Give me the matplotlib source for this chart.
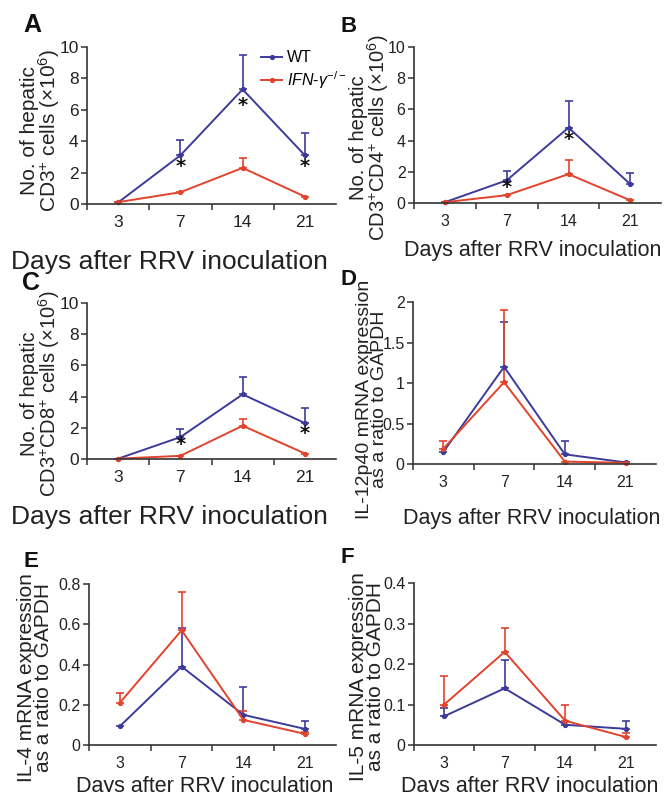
import numpy as np
import matplotlib
matplotlib.use("Agg")
import matplotlib.pyplot as plt
from matplotlib.lines import Line2D

plt.rcParams['font.family'] = ['Liberation Sans', 'DejaVu Sans']
plt.rcParams['mathtext.fontset'] = 'custom'
plt.rcParams['mathtext.rm'] = 'Liberation Sans'
plt.rcParams['mathtext.it'] = 'Liberation Sans:italic'

days = ["3", "7", "14", "21"]

# A: CD3+
a_wt = [0.1, 3.1, 7.3, 3.1]
a_wt_err = [0, 1.0, 2.2, 1.45]
a_ko = [0.12, 0.75, 2.3, 0.47]
a_ko_err = [0, 0, 0.6, 0]
a_stars = [(1, 2.4), (2, 6.25), (3, 2.4)]

# B: CD3+CD4+
b_wt = [0.05, 1.45, 4.83, 1.2]
b_wt_err = [0, 0.6, 1.7, 0.75]
b_ko = [0.05, 0.5, 1.85, 0.17]
b_ko_err = [0, 0, 0.9, 0]
b_stars = [(1, 1.0), (2, 4.05)]

# C: CD3+CD8+
c_wt = [0.02, 1.4, 4.14, 2.3]
c_wt_err = [0, 0.5, 1.1, 0.95]
c_ko = [0.02, 0.2, 2.13, 0.35]
c_ko_err = [0, 0, 0.42, 0]
c_stars = [(1, 0.9), (3, 1.65)]

# D: IL-12p40
d_wt = [0.15, 1.2, 0.12, 0.02]
d_wt_err = [0, 0.55, 0.17, 0]
d_ko = [0.19, 1.01, 0.03, 0.015]
d_ko_err = [0.09, 0.89, 0, 0]

# E: IL-4
e_wt = [0.093, 0.39, 0.15, 0.08]
e_wt_err = [0, 0.19, 0.14, 0.04]
e_ko = [0.21, 0.57, 0.125, 0.055]
e_ko_err = [0.05, 0.19, 0.045, 0.01]

# F: IL-5
f_wt = [0.071, 0.14, 0.05, 0.04]
f_wt_err = [0.02, 0.07, 0, 0.02]
f_ko = [0.10, 0.23, 0.06, 0.02]
f_ko_err = [0.07, 0.06, 0.04, 0.01]

blue = "#3c3b9c"
red = "#e2432c"
axcol = "#333333"
txtcol = "#222222"


def panel(ax, wt, wt_err, ko, ko_err, ymax, ystep, ylabel, big=False, stars=(),
          ylab=(-0.1, 0.42), ylab_fs=15, xlab=(0.5, -0.24)):
    x = np.arange(len(days))
    for vals, errs, col in [(wt, wt_err, blue), (ko, ko_err, red)]:
        e = np.array(errs, dtype=float)
        e = np.where(e > 0, e, np.nan)
        ax.errorbar(x, vals, yerr=[np.zeros(len(e)), e], color=col, lw=1.4,
                    marker='o', ms=2.8, capsize=3, elinewidth=1.2, capthick=1.2,
                    clip_on=False)
    for sx, sy in stars:
        ax.text(sx, sy, "*", ha='center', va='center', fontsize=14,
                fontweight='bold', color='#111111', family='DejaVu Sans')

    ax.set_xlim(-0.5, 3.5)
    ax.set_ylim(0, ymax)
    ax.set_xticks(x)
    ax.set_xticklabels(days)
    ax.set_xticks([-0.5, 0.5, 1.5, 2.5], minor=True)
    ticks = np.arange(0, ymax + ystep / 2, ystep)
    ax.set_yticks(ticks)
    ax.set_yticklabels(["%g" % t for t in ticks])

    tfs = 12.5 if big else 11.5
    ax.tick_params(axis='x', which='major', length=0, pad=8, labelsize=tfs, colors=txtcol)
    ax.tick_params(axis='x', which='minor', length=4, width=1.1, direction='out', color=axcol)
    ax.tick_params(axis='y', length=4, width=1.1, direction='out', labelsize=tfs,
                   color=axcol, labelcolor=txtcol, pad=2)
    for s in ['top', 'right']:
        ax.spines[s].set_visible(False)
    for s in ['left', 'bottom']:
        ax.spines[s].set_linewidth(1.2)
        ax.spines[s].set_color(axcol)

    ax.set_xlabel("Days after RRV inoculation", fontsize=19 if big else 15.5, color=txtcol)
    ax.xaxis.set_label_coords(*xlab)
    ax.set_ylabel(ylabel, fontsize=ylab_fs, linespacing=0.85, color=txtcol)
    ax.yaxis.set_label_coords(*ylab)


fig = plt.figure(figsize=(6.72, 7.92), dpi=100)

axA = fig.add_axes([0.1295, 0.7424, 0.3705, 0.1983])
axB = fig.add_axes([0.616, 0.7437, 0.368, 0.197])
axC = fig.add_axes([0.1295, 0.4205, 0.3705, 0.197])
axD = fig.add_axes([0.6146, 0.4141, 0.3614, 0.2046])
axE = fig.add_axes([0.1324, 0.0593, 0.3676, 0.2033])
axF = fig.add_axes([0.616, 0.0593, 0.360, 0.2046])

panel(axA, a_wt, a_wt_err, a_ko, a_ko_err, 10, 2,
      "No. of hepatic\nCD3$^{+}$ cells (×10$^{6}$)", big=True, stars=a_stars,
      ylab=(-0.10, 0.47), ylab_fs=15, xlab=(0.33, -0.295))
panel(axB, b_wt, b_wt_err, b_ko, b_ko_err, 10, 2,
      "No. of hepatic\nCD3$^{+}$CD4$^{+}$ cells (×10$^{6}$)", stars=b_stars,
      ylab=(-0.093, 0.42), ylab_fs=14.5, xlab=(0.48, -0.24))
panel(axC, c_wt, c_wt_err, c_ko, c_ko_err, 10, 2,
      "No. of hepatic\nCD3$^{+}$CD8$^{+}$ cells (×10$^{6}$)", big=True, stars=c_stars,
      ylab=(-0.10, 0.42), ylab_fs=14.5, xlab=(0.33, -0.296))
panel(axD, d_wt, d_wt_err, d_ko, d_ko_err, 2, 0.5,
      "IL-12p40 mRNA expression\nas a ratio to GAPDH",
      ylab=(-0.103, 0.40), ylab_fs=14, xlab=(0.49, -0.27))
panel(axE, e_wt, e_wt_err, e_ko, e_ko_err, 0.8, 0.2,
      "IL-4 mRNA expression\nas a ratio to GAPDH",
      ylab=(-0.146, 0.42), ylab_fs=15, xlab=(0.47, -0.19))
panel(axF, f_wt, f_wt_err, f_ko, f_ko_err, 0.4, 0.1,
      "IL-5 mRNA expression\nas a ratio to GAPDH",
      ylab=(-0.12, 0.42), ylab_fs=15, xlab=(0.48, -0.19))

handles = [Line2D([], [], color=blue, lw=1.4, marker='o', ms=2.8),
           Line2D([], [], color=red, lw=1.4, marker='o', ms=2.8)]
axA.legend(handles, ["WT", r"$IFN$-$\gamma^{-/-}$"], loc='upper left',
           bbox_to_anchor=(0.70, 0.98), frameon=False, fontsize=11.5,
           handlelength=1.3, handletextpad=0.3, labelspacing=0.25,
           borderpad=0, borderaxespad=0)

# panel letters
letters = [("A", 23, 32, 18), ("B", 341, 32, 16), ("C", 22, 290, 18),
           ("D", 341, 285, 16), ("E", 23, 567, 16), ("F", 341, 563, 16)]
for t, px, py, fs in letters:
    fig.text(px / 672, 1 - py / 792, t, fontsize=fs, fontweight='bold',
             va='baseline', ha='left', color='#111111')

fig.savefig("out.png", dpi=100)
